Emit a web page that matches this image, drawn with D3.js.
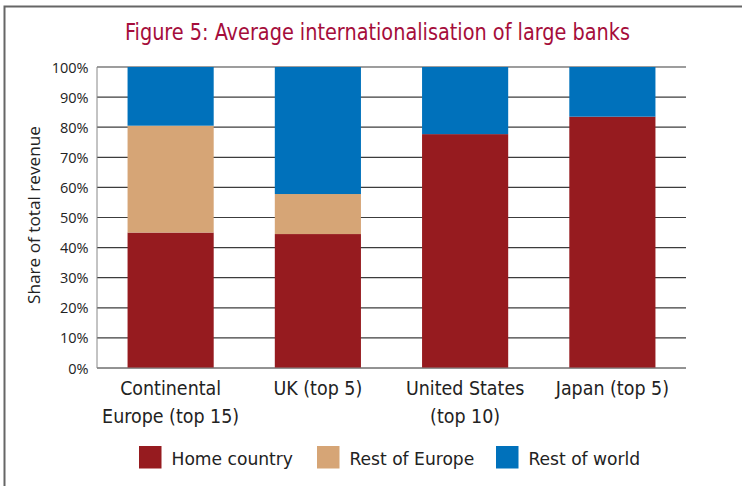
<!DOCTYPE html>
<html><head><meta charset="utf-8">
<script src="https://cdn.jsdelivr.net/npm/d3@7"></script>
<style>body{margin:0;background:#fff}svg{display:block}</style>
</head><body>
<script>
const categories = [["Continental","Europe (top 15)"],["UK (top 5)"],["United States","(top 10)"],["Japan (top 5)"]];
const seriesNames = ["Home country","Rest of Europe","Rest of world"];
const homeCountry = [45, 44.5, 77.7, 83.5];
const restOfEurope = [35.5, 13.3, 0, 0];
const restOfWorld = [19.5, 42.2, 22.3, 16.5];
const yTicks = [0,10,20,30,40,50,60,70,80,90,100];
const colors = ["#961b1f","#d6a576","#0071bb"];

const W=742,H=486;
const m={l:97,r:56,t:67,b:118};
const svg=d3.select("body").append("svg").attr("width",W).attr("height",H);
const condensed="'DejaVu Sans Condensed','DejaVu Sans',sans-serif";

// squeeze text horizontally by a ratio (font is condensed in the original)
function squeeze(sel, ratio){
  sel.each(function(){
    const n=this.getComputedTextLength();
    d3.select(this).attr("textLength",n*ratio).attr("lengthAdjust","spacingAndGlyphs");
  });
}

// frame
svg.append("path").attr("d",`M4.5,${H} L4.5,6.5 L${W},6.5`).attr("fill","none").attr("stroke","#666").attr("stroke-width",2);

const title=svg.append("text").attr("x",377.5).attr("y",40.3).attr("text-anchor","middle")
  .attr("font-family",condensed).attr("font-size",23.3).attr("fill","#a50d3b")
  .text("Figure 5: Average internationalisation of large banks");
{ const n=title.node().getComputedTextLength(); squeeze(title, 505/n); }

const x=d3.scaleBand().domain(d3.range(categories.length)).range([m.l,W-m.r]).padding(0);
const y=d3.scaleLinear().domain([0,100]).range([H-m.b,m.t]);

const g=svg.append("g");
g.selectAll("line.grid").data(yTicks).join("line")
  .attr("x1",m.l).attr("x2",W-m.r).attr("y1",d=>y(d)).attr("y2",d=>y(d))
  .attr("stroke","#3c3c3c").attr("stroke-width",1.2);

const data=categories.map((c,i)=>({i,home:homeCountry[i],roe:restOfEurope[i],row:restOfWorld[i]}));
const stack=d3.stack().keys(["home","roe","row"])(data);
const bw=x.bandwidth()*0.585;
stack.forEach((s,k)=>{
  g.selectAll(null).data(s).join("rect")
    .attr("x",d=>x(d.data.i)+(x.bandwidth()-bw)/2).attr("width",bw)
    .attr("y",d=>y(d[1])).attr("height",d=>y(d[0])-y(d[1]))
    .attr("fill",colors[k]);
});

// axis lines
g.append("line").attr("x1",m.l).attr("x2",m.l).attr("y1",y(0)).attr("y2",y(100)).attr("stroke","#888").attr("stroke-width",1);
g.append("line").attr("x1",m.l).attr("x2",W-m.r).attr("y1",y(0)).attr("y2",y(0)).attr("stroke","#888").attr("stroke-width",1);

g.selectAll("text.yt").data(yTicks).join("text")
  .attr("x",88.5).attr("y",d=>y(d)+5.5).attr("text-anchor","end")
  .attr("font-family","'Open Sans',sans-serif").attr("font-size",14.5).attr("fill","#222")
  .text(d=>d+"%");

svg.append("text").attr("transform",`translate(40,215) rotate(-90)`)
  .attr("text-anchor","middle").attr("font-family","'Open Sans',sans-serif").attr("font-size",17.2).attr("fill","#222")
  .text("Share of total revenue");

// category labels
const catTexts=[];
categories.forEach((c,i)=>{
  c.forEach((ln,j)=>{
    const t=svg.append("text").attr("x",x(i)+x.bandwidth()/2).attr("y",395+j*27.5).attr("text-anchor","middle")
      .attr("font-family",condensed).attr("font-size",19.2).attr("fill","#222").text(ln);
    catTexts.push(t);
  });
});
{ const n=catTexts[0].node().getComputedTextLength(); const r=101/n; catTexts.forEach(t=>squeeze(t,r)); }

const legX=[139,317,496];
const legTexts=[];
seriesNames.forEach((n,k)=>{
  svg.append("rect").attr("x",legX[k]).attr("y",446).attr("width",22.5).attr("height",22.5).attr("fill",colors[k]);
  legTexts.push(svg.append("text").attr("x",legX[k]+32.5).attr("y",465).attr("font-family",condensed).attr("font-size",17).attr("fill","#222").text(n));
});
{ const n=legTexts[0].node().getComputedTextLength(); const r=121.5/n; legTexts.forEach(t=>squeeze(t,r)); }
</script>
</body></html>
